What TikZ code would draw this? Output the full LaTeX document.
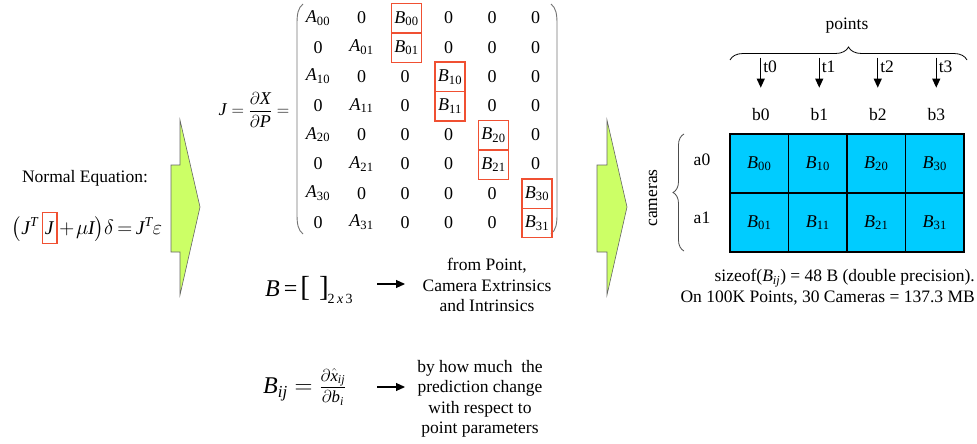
\documentclass[tikz,border=0pt]{standalone}
\usepackage{amsmath}
\usepackage{fontspec}
\setmainfont{Liberation Serif}
\usetikzlibrary{arrows.meta,decorations.pathreplacing}
\definecolor{boxred}{RGB}{240,80,50}
\definecolor{cellblue}{RGB}{0,204,255}
\definecolor{arrgreen}{RGB}{204,255,102}
\newcommand\TI[1]{\text{\itshape #1}}
\newcommand\MatA[1]{\textit{A}\textsubscript{#1}}
\newcommand\MatB[1]{\textit{B}\textsubscript{#1}}
\newcommand\RedJ{\begingroup\setlength\fboxsep{0pt}\setlength\fboxrule{1.3pt}\fcolorbox{boxred}{white}{\hspace{2pt}\textit{J}\hspace{2pt}\rule[-9pt]{0pt}{30pt}}\endgroup}
\begin{document}
\begin{tikzpicture}[x=1pt,y=-1pt,
  txt/.style={font=\fontsize{17.5}{20.5}\selectfont, inner sep=0pt},
  ent/.style={font=\fontsize{18}{20}\selectfont, inner sep=0pt},
  redent/.style={ent, draw=boxred, line width=1.3pt, minimum width=30pt, minimum height=29.5pt},
  cell/.style={draw=black, fill=cellblue, line width=1.1pt, minimum width=58.5pt, minimum height=59pt, inner sep=0pt, font=\fontsize{18}{20}\selectfont},
  bigarrow/.style={fill=arrgreen, draw=black!60, line width=0.6pt},
  tip/.style={-{Triangle[length=9pt,width=8pt]}, line width=1.1pt},
  paren/.style={draw=black!55, line width=0.9pt}]
\useasboundingbox (0,0) rectangle (977,444);

% left: normal equation
\node[txt] (ne) at (85,178) {Normal Equation:};
\node[inner sep=0pt, font=\fontsize{19.5}{24}\selectfont] (eq) at (87,228)
  {\medmuskip=1.5mu\thickmuskip=3mu$\bigl(\TI{J}^{\TI{T}}\,\mbox{\RedJ}+\mu\TI{I}\bigr)\delta=\TI{J}^{\TI{T}}\varepsilon$};

% green arrows
\draw[bigarrow] (171,165) -- (180,165) -- (180,120) -- (200,207) -- (180,295) -- (180,252) -- (171,252) -- cycle;
\draw[bigarrow] (597,165) -- (607,165) -- (607,120) -- (627,207) -- (607,295) -- (607,252) -- (597,252) -- cycle;

% Jacobian
\node[inner sep=0pt, font=\fontsize{18}{22}\selectfont] (jdef) at (254,110)
  {$\TI{J}=\dfrac{\partial \TI{X}}{\partial \TI{P}}=$};
\draw[paren] (303,4) .. controls (298,8) and (297,14) .. (297,24) -- (297,214) .. controls (297,224) and (298,230) .. (303,234);
\draw[paren] (551,4) .. controls (556,8) and (557,14) .. (557,24) -- (557,214) .. controls (557,224) and (556,230) .. (551,234);

\foreach \r/\a/\b/\ac in {0/00/00/0,1/01/01/1,2/10/10/0,3/11/11/1,4/20/20/0,5/21/21/1,6/30/30/0,7/31/31/1}{
  \pgfmathsetmacro\yy{18+29.2*\r}
  \pgfmathtruncatemacro\bc{2+int(\r/2)}
  \foreach \c in {0,...,5}{
    \pgfmathsetmacro\xx{318+43.5*\c}
    \ifnum\c=\bc
      \node[redent] (m\r-\c) at (\xx+1.5,\yy+0.5) {\MatB{\b}};
    \else\ifnum\c=\ac
      \node[ent] (m\r-\c) at (\xx,\yy) {\MatA{\a}};
    \else
      \node[ent] (m\r-\c) at (\xx,\yy) {0};
    \fi\fi
  }
}

% B definitions
\node[inner sep=0pt, font=\fontsize{24}{28}\selectfont, anchor=west] (beq) at (265,290)
  {\textit{B}\hspace{4pt}=\hspace{3pt}{\fontsize{29}{30}\selectfont[\hspace{9pt}]}\hspace{-1pt}\raisebox{-7pt}{\fontsize{14}{16}\selectfont 2\,\textit{x}\,3}};
\node[txt, align=center] (from) at (487,285) {from Point,\\Camera Extrinsics\\and Intrinsics};
\draw[tip] (377,284) -- (405,284);

\node[inner sep=0pt, font=\fontsize{24}{28}\selectfont, anchor=west] (bij) at (263,387)
  {$\TI{B}_{\TI{ij}}=\frac{\partial\hat{\TI{x}}_{\TI{ij}}}{\partial \TI{b}_{\TI{i}}}$};
\node[txt, align=center] (pred) at (480,399) {by how much~ the\\prediction change\\with respect to\\point parameters};
\draw[tip] (377,387) -- (405,387);

% right: block grid
\node[txt] (pts) at (847,26) {points};
\draw[line width=0.8pt, decorate, decoration={brace, amplitude=13pt}] (730,60) -- (967,60);
\foreach \i/\x in {0/759.25,1/817.75,2/876.25,3/934.75}{
  \node[txt] (b\i) at (\x+1.5,115) {b\i};
  \draw[tip] ([yshift=51pt]b\i.north) -- ([yshift=21pt]b\i.north)
    node[txt, anchor=west, pos=0.3, xshift=2pt] (t\i) {t\i};
  \foreach \j in {0,1}{
    \node[cell] (c\i\j) at (\x,{163.5+59*\j}) {\MatB{\i\j}};
  }
}
\node[txt] (a0) at (702,160) {a0};
\node[txt] (a1) at (702,218) {a1};
\draw[line width=0.8pt, draw=black!70, decorate, decoration={brace, amplitude=11pt}] (684,251) -- (684,134);
\node[txt, rotate=90] (cams) at (653,198) {cameras};

\node[txt, align=right, anchor=east] (size) at (975,287)
  {sizeof(\textit{B}\textsubscript{\textit{ij}}) = 48 B (double precision).\\On 100K Points, 30 Cameras = 137.3 MB};
\end{tikzpicture}
\end{document}
